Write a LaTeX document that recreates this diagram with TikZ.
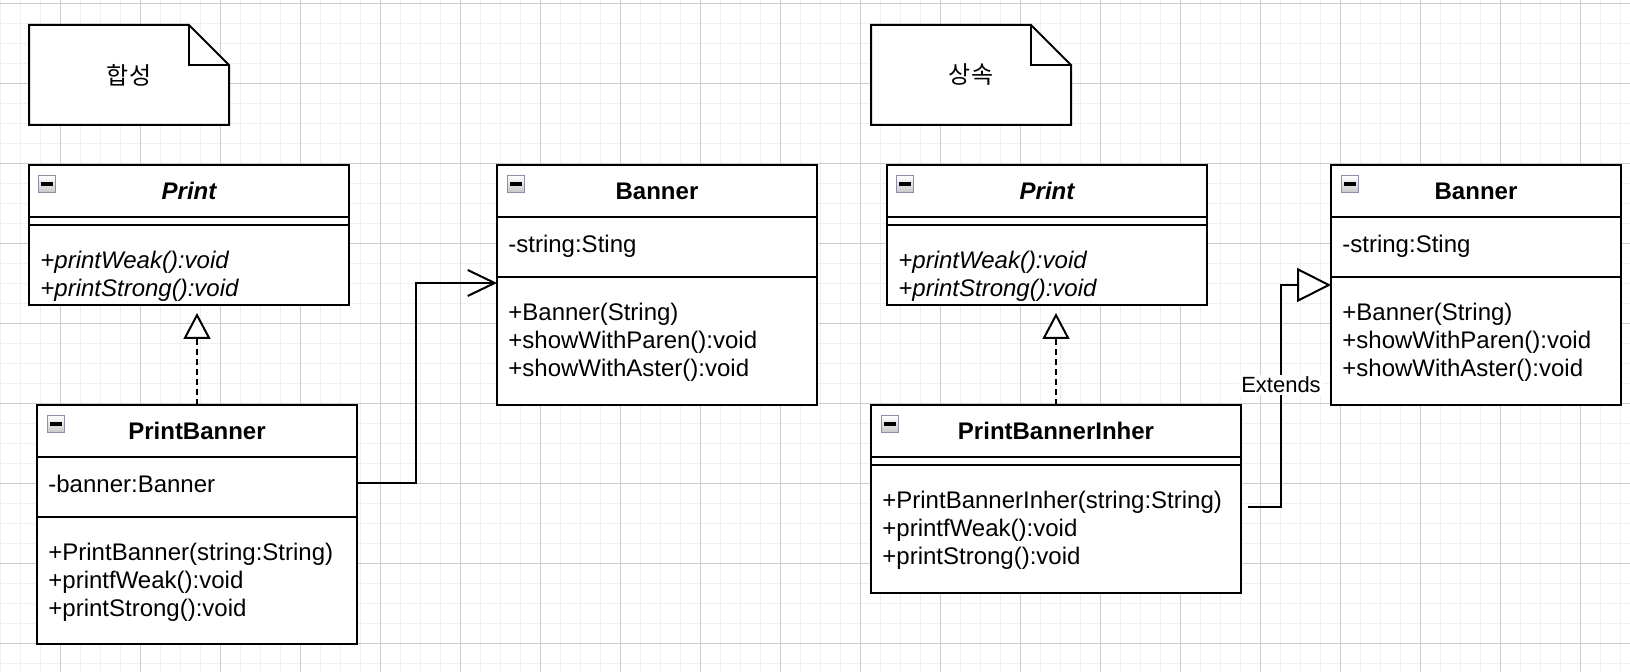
\documentclass[tikz,border=0pt]{standalone}
\usepackage{fontspec}
\setmainfont{Liberation Sans}
\newfontfamily\kofont{Noto Sans CJK KR}
\usepackage{tikz}
\usetikzlibrary{positioning,arrows.meta}

\definecolor{gridmajor}{HTML}{CCCCCC}
\definecolor{gridminor}{HTML}{F0F0F0}
\definecolor{iconedge}{HTML}{8A90A2}

\begin{document}
\begin{tikzpicture}[x=0.5pt,y=-0.5pt,
	classbox/.style={draw,line width=1pt,fill=white,inner sep=0pt,outer sep=0pt},
	classname/.style={inner sep=0pt,font=\fontsize{12pt}{14pt}\selectfont\bfseries},
	member/.style={anchor=north west,inner sep=0pt,align=left,font=\fontsize{12pt}{14pt}\selectfont},
	abstractop/.style={member,font=\fontsize{12pt}{14pt}\selectfont\itshape},
	minusicon/.style={draw=iconedge,line width=0.6pt,top color=white,bottom color=black!22,
		minimum size=8.5pt,inner sep=0pt,anchor=north west,
		path picture={\fill[black] ([xshift=-3pt,yshift=-0.8pt]path picture bounding box.center) rectangle ++(6pt,1.6pt);}},
	notetext/.style={inner sep=0pt,font=\kofont\fontsize{12pt}{14pt}\selectfont},
	realize/.style={line width=1pt,dash pattern=on 3pt off 2pt,shorten >=4pt,
		-{Triangle[length=13pt,width=13.5pt,fill=white]}},
	assoc/.style={line width=1pt,-{Straight Barb[length=13.5pt,width=13pt]}},
	extends/.style={line width=1pt,-{Triangle[length=17pt,width=17pt,fill=white]}},
	edgelabel/.style={fill=white,inner sep=1pt,font=\fontsize{11pt}{13pt}\selectfont}
]
	\useasboundingbox (0,0) rectangle (1630,672);
	\fill[white] (0,0) rectangle (1630,672);
	
	%GRID
	\foreach \x in {0,20,...,1620} \draw[gridminor,line width=0.5pt] (\x,0) -- (\x,672);
	\foreach \y in {4,24,...,664} \draw[gridminor,line width=0.5pt] (0,\y) -- (1630,\y);
	\foreach \x in {60,140,...,1620} \draw[gridmajor,line width=0.5pt] (\x,0) -- (\x,672);
	\foreach \y in {4,84,...,644} \draw[gridmajor,line width=0.5pt] (0,\y) -- (1630,\y);
	
	%NOTES
	\coordinate (noteLcorner) at (29,25);
	\draw[line width=1pt,fill=white] (noteLcorner) -- ++(160,0) -- ++(40,40) -- ++(0,60) -- ++(-200,0) -- cycle;
	\draw[line width=1pt] ([xshift=80pt]noteLcorner) -- ++(0,40) -- ++(40,0);
	\node[notetext] (noteL) at ([shift={(100,50)}]noteLcorner) {합성};
	
	\coordinate (noteRcorner) at (871,25);
	\draw[line width=1pt,fill=white] (noteRcorner) -- ++(160,0) -- ++(40,40) -- ++(0,60) -- ++(-200,0) -- cycle;
	\draw[line width=1pt] ([xshift=80pt]noteRcorner) -- ++(0,40) -- ++(40,0);
	\node[notetext] (noteR) at ([shift={(100,50)}]noteRcorner) {상속};
	
	%LEFT: PRINT
	\node[classbox,minimum width=160pt,minimum height=26pt,anchor=north west] (printL) at (29,165) {};
	\node[classbox,minimum width=160pt,minimum height=4pt,below=0pt of printL] (printLattr) {};
	\node[classbox,minimum width=160pt,minimum height=40pt,below=0pt of printLattr] (printLmeth) {};
	\node[classname,font=\fontsize{12pt}{14pt}\selectfont\bfseries\itshape] (printLname) at (printL.center) {Print};
	\node[minusicon] (printLicon) at ([shift={(9,10)}]printL.north west) {};
	\node[abstractop] (printLops) at ([shift={(11,26)}]printLmeth.north west) {+printWeak():void\\+printStrong():void};
	
	%LEFT: PRINTBANNER
	\node[classbox,minimum width=160pt,minimum height=26pt,anchor=north west] (pbL) at (37,405) {};
	\node[classbox,minimum width=160pt,minimum height=30pt,below=0pt of pbL] (pbLattr) {};
	\node[classbox,minimum width=160pt,minimum height=63.5pt,below=0pt of pbLattr] (pbLmeth) {};
	\node[classname] (pbLname) at (pbL.center) {PrintBanner};
	\node[minusicon] (pbLicon) at ([shift={(10,10)}]pbL.north west) {};
	\node[member] (pbLfields) at ([shift={(11,18)}]pbLattr.north west) {-banner:Banner};
	\node[member] (pbLops) at ([shift={(11,26)}]pbLmeth.north west) {+PrintBanner(string:String)\\+printfWeak():void\\+printStrong():void};
	
	%LEFT: BANNER
	\node[classbox,minimum width=160pt,minimum height=26pt,anchor=north west] (bannerL) at (497,165) {};
	\node[classbox,minimum width=160pt,minimum height=30pt,below=0pt of bannerL] (bannerLattr) {};
	\node[classbox,minimum width=160pt,minimum height=64pt,below=0pt of bannerLattr] (bannerLmeth) {};
	\node[classname] (bannerLname) at (bannerL.center) {Banner};
	\node[minusicon] (bannerLicon) at ([shift={(10,10)}]bannerL.north west) {};
	\node[member] (bannerLfields) at ([shift={(11,18)}]bannerLattr.north west) {-string:Sting};
	\node[member] (bannerLops) at ([shift={(11,26)}]bannerLmeth.north west) {+Banner(String)\\+showWithParen():void\\+showWithAster():void};
	
	%RIGHT: PRINT
	\node[classbox,minimum width=160pt,minimum height=26pt,anchor=north west] (printR) at (887,165) {};
	\node[classbox,minimum width=160pt,minimum height=4pt,below=0pt of printR] (printRattr) {};
	\node[classbox,minimum width=160pt,minimum height=40pt,below=0pt of printRattr] (printRmeth) {};
	\node[classname,font=\fontsize{12pt}{14pt}\selectfont\bfseries\itshape] (printRname) at (printR.center) {Print};
	\node[minusicon] (printRicon) at ([shift={(9,10)}]printR.north west) {};
	\node[abstractop] (printRops) at ([shift={(11,26)}]printRmeth.north west) {+printWeak():void\\+printStrong():void};
	
	%RIGHT: PRINTBANNERINHER
	\node[classbox,minimum width=185pt,minimum height=26pt,anchor=north west] (pbiR) at (871,405) {};
	\node[classbox,minimum width=185pt,minimum height=4pt,below=0pt of pbiR] (pbiRattr) {};
	\node[classbox,minimum width=185pt,minimum height=64pt,below=0pt of pbiRattr] (pbiRmeth) {};
	\node[classname] (pbiRname) at (pbiR.center) {PrintBannerInher};
	\node[minusicon] (pbiRicon) at ([shift={(10,10)}]pbiR.north west) {};
	\node[member] (pbiRops) at ([shift={(11,26)}]pbiRmeth.north west) {+PrintBannerInher(string:String)\\+printfWeak():void\\+printStrong():void};
	
	%RIGHT: BANNER
	\node[classbox,minimum width=145pt,minimum height=26pt,anchor=north west] (bannerR) at (1331,165) {};
	\node[classbox,minimum width=145pt,minimum height=30pt,below=0pt of bannerR] (bannerRattr) {};
	\node[classbox,minimum width=145pt,minimum height=64pt,below=0pt of bannerRattr] (bannerRmeth) {};
	\node[classname] (bannerRname) at (bannerR.center) {Banner};
	\node[minusicon] (bannerRicon) at ([shift={(10,10)}]bannerR.north west) {};
	\node[member] (bannerRfields) at ([shift={(11,18)}]bannerRattr.north west) {-string:Sting};
	\node[member] (bannerRops) at ([shift={(11,26)}]bannerRmeth.north west) {+Banner(String)\\+showWithParen():void\\+showWithAster():void};
	
	%CONNECTORS
	\draw[realize] (pbL.north) -- (pbL.north |- printLmeth.south);
	\draw[realize] (pbiR.north) -- (pbiR.north |- printRmeth.south);
	\draw[assoc] ([yshift=2pt]pbLattr.east) -- ++(59,0) |- ([yshift=-3pt]bannerLmeth.north west);
	\draw[extends] ([shift={(7,-22)}]pbiRmeth.east) -- ++(33,0) |- ([yshift=-4pt]bannerRmeth.north west)
		node[edgelabel,pos=0.275] (extendsLbl) {Extends};
\end{tikzpicture}
\end{document}
